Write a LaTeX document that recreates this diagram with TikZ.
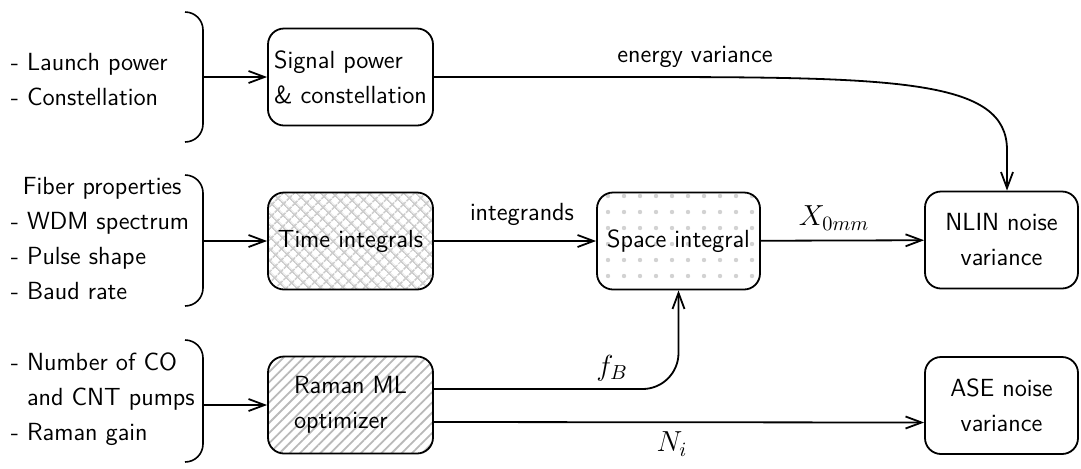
\documentclass[tikz,border=0pt]{standalone}
\usepackage{fix-cm}
\usepackage{tikz}
\usetikzlibrary{arrows.meta,patterns.meta}

\begin{document}
\begin{tikzpicture}[x=0.5pt,y=-0.5pt,
	font=\fontsize{12.4}{17.5}\sffamily,
	line width=0.9pt,
	>={Straight Barb[length=8pt,width=6pt]},
	block/.style={draw, rounded corners=8pt, minimum height=48.5pt, minimum width=82.5pt, inner sep=0pt, align=center},
	inputs/.style={anchor=west, inner sep=0pt, align=left},
	bracket/.style={line width=0.8pt},
	lbl/.style={font=\fontsize{14.5}{16}\selectfont}]
\useasboundingbox (0,0) rectangle (1081,468);

	% inputs
	\node[inputs] (pwr) at (10,80) {- Launch power\\- Constellation};
	\node[inputs] (fib) at (10,239) {\hspace*{6pt}Fiber properties\\- WDM spectrum\\- Pulse shape\\- Baud rate};
	\node[inputs] (pmp) at (10,399) {- Number of CO\\\phantom{- }and CNT pumps\\- Raman gain};
	\draw[bracket] (185,12) to[out=0,in=90] (203,30) -- (203,124) to[out=-90,in=0] (185,142);
	\draw[bracket] (185,175) to[out=0,in=90] (203,193) -- (203,288) to[out=-90,in=0] (185,306);
	\draw[bracket] (185,340) to[out=0,in=90] (203,358) -- (203,444) to[out=-90,in=0] (185,462);
	\coordinate (b1) at (203,77);
	\coordinate (b2) at (203,241);
	\coordinate (b3) at (203,405);

	% blocks
	\node[block, align=left] (sig) at (350.5,77) {Signal power\\\& constellation};
	\node[block, pattern={Hatch[angle=45,distance=4pt]}, pattern color=gray!40] (time) at (350.5,241) {Time integrals};
	\node[block, minimum width=81.5pt, pattern={Dots[distance=8pt,radius=1.1pt]}, pattern color=gray!35] (space) at (678.5,241) {Space integral};
	\node[block, align=left, pattern={Lines[angle=45,distance=3.6pt]}, pattern color=gray!55] (raman) at (350.5,405) {Raman ML\\optimizer};
	\node[block, minimum width=76.5pt] (nlin) at (1001.5,240) {NLIN noise\\variance};
	\node[block, minimum width=76.5pt] (ase) at (1001.5,405.5) {ASE noise\\variance};

	% labels
	\node (evl) at (695,57) {energy variance};
	\node (intl) at (522,214) {integrands};
	\node[lbl] (xl) at (834,218) {$X_{0mm}$};
	\node[lbl] (fl) at (612,368) {$f_B$};
	\node[lbl] (nl) at (672,444) {$N_i$};

	% connectors
	\draw[->] (b1) -- (sig);
	\draw[->] (b2) -- (time);
	\draw[->] (b3) -- (raman);
	\draw[->] (time) -- (space);
	\draw[->] (space) -- (nlin);
	\coordinate (ev) at (1007,150);
	\draw[->] (sig.east) -- (640,77) .. controls (900,77) and (1007,80) .. (ev) -- (ev |- nlin.north);
	\draw[->, rounded corners=18pt] ([yshift=8pt]raman.east) -| (space.south);
	\draw[->] ([yshift=-8.5pt]raman.east) -- ([yshift=-8.5pt]ase.west);
\end{tikzpicture}
\end{document}
